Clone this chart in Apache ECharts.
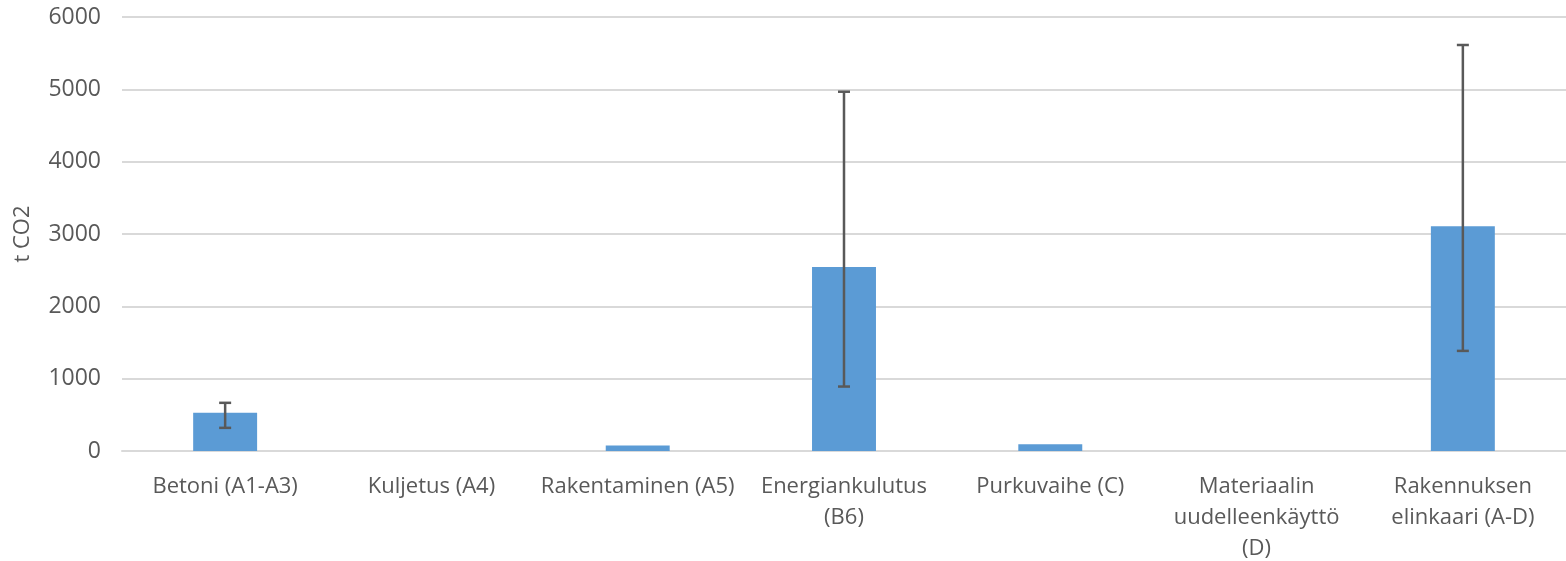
<!DOCTYPE html>
<html>
<head>
<meta charset="utf-8">
<script src="https://cdn.jsdelivr.net/npm/echarts@6/dist/echarts.min.js"></script>
<style>
  html, body { margin: 0; padding: 0; background: #fff; }
  #main { width: 1566px; height: 561px; }
</style>
</head>
<body>
<div id="main"></div>
<script>
var categories = ['Betoni (A1-A3)', 'Kuljetus (A4)', 'Rakentaminen (A5)', 'Energiankulutus\n(B6)',
  'Purkuvaihe (C)', 'Materiaalin\nuudelleenkäyttö\n(D)', 'Rakennuksen\nelinkaari (A-D)'];
var values = [528, 0, 75, 2545, 95, 0, 3107];
// error bar ends (null = no error bar)
var errLow = [320, null, null, 891, null, null, 1384];
var errHigh = [666, null, null, 4967, null, null, 5613];
var yTicks = [0, 1000, 2000, 3000, 4000, 5000, 6000];

var errData = [];
for (var i = 0; i < categories.length; i++) {
  if (errLow[i] != null) errData.push([i, errLow[i], errHigh[i]]);
}

var myChart = echarts.init(document.getElementById('main'));
var font = '"Open Sans", sans-serif';

var option = {
  animation: false,
  textStyle: { fontFamily: font },
  grid: { left: 122, right: 0, top: 17, bottom: 110, outerBoundsMode: 'none', containLabel: false },
  xAxis: {
    type: 'category',
    data: categories,
    axisLine: { lineStyle: { color: '#d9d9d9', width: 2 } },
    axisTick: { show: false },
    axisLabel: { color: '#595959', fontSize: 22, lineHeight: 31, margin: 20, interval: 0, fontFamily: font }
  },
  yAxis: {
    type: 'value',
    min: yTicks[0],
    max: yTicks[yTicks.length - 1],
    interval: 1000,
    name: 't CO2',
    nameLocation: 'middle',
    nameGap: 88,
    nameRotate: 90,
    nameTextStyle: { color: '#595959', fontSize: 22, fontFamily: font },
    axisLine: { show: false },
    axisTick: { show: false },
    axisLabel: {
      color: '#595959', fontSize: 23, margin: 21, fontFamily: font,
      formatter: function (v) { return String(v); }
    },
    splitLine: { lineStyle: { color: '#d9d9d9', width: 2 } }
  },
  series: [
    {
      type: 'bar',
      data: values,
      barWidth: '31%',
      itemStyle: { color: '#5b9bd5' }
    },
    {
      type: 'custom',
      data: errData,
      z: 10,
      renderItem: function (params, api) {
        var x = api.value(0);
        var lo = api.coord([x, api.value(1)]);
        var hi = api.coord([x, api.value(2)]);
        var half = 6;
        var style = { stroke: '#595959', lineWidth: 2.5 };
        return {
          type: 'group',
          children: [
            { type: 'line', shape: { x1: lo[0], y1: lo[1], x2: hi[0], y2: hi[1] }, style: style },
            { type: 'line', shape: { x1: lo[0] - half, y1: lo[1], x2: lo[0] + half, y2: lo[1] }, style: style },
            { type: 'line', shape: { x1: hi[0] - half, y1: hi[1], x2: hi[0] + half, y2: hi[1] }, style: style }
          ]
        };
      }
    }
  ]
};

myChart.setOption(option);
</script>
</body>
</html>
